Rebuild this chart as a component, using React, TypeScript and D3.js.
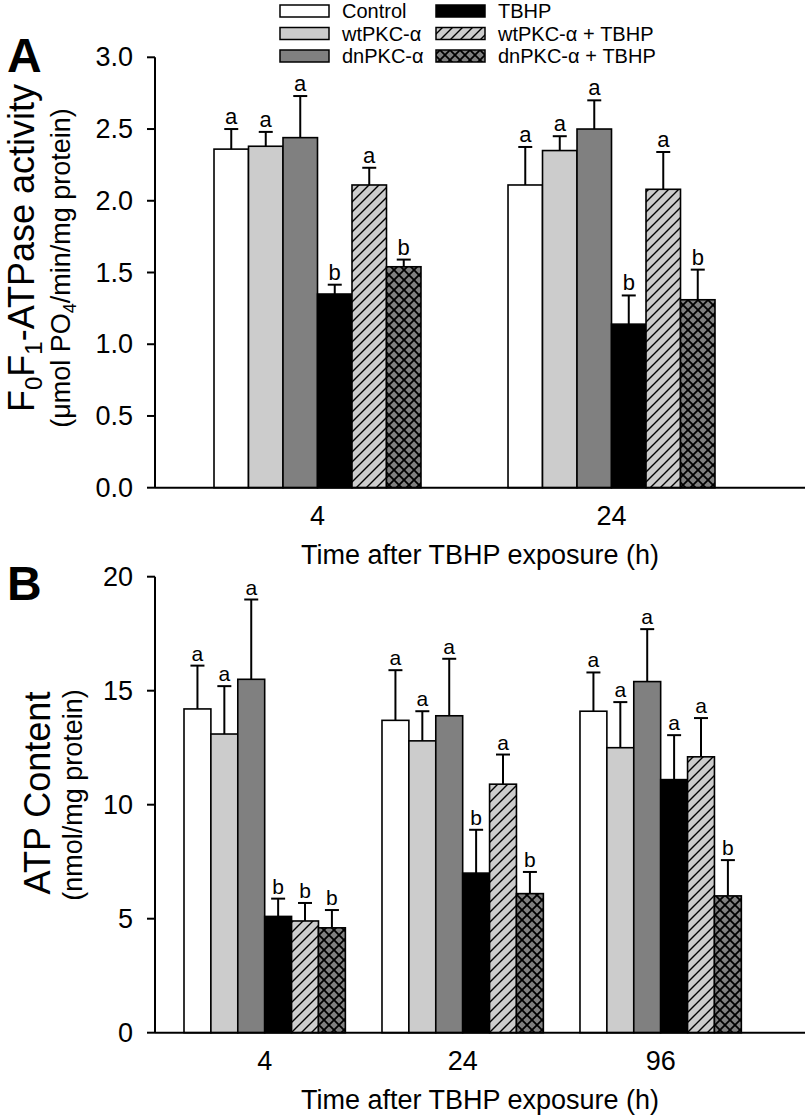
import * as d3 from "d3";

// six treatment series, same order in both panels
const seriesNames = ["Control", "wtPKC-α", "dnPKC-α", "TBHP", "wtPKC-α + TBHP", "dnPKC-α + TBHP"];

// panel A: F0F1-ATPase activity
const timesA = ["4", "24"];
const atpaseMean = [
  [2.36, 2.38, 2.44, 1.35, 2.11, 1.54],
  [2.11, 2.35, 2.5, 1.14, 2.08, 1.31],
];
const atpaseErr = [
  [0.14, 0.1, 0.29, 0.065, 0.12, 0.05],
  [0.265, 0.1, 0.2, 0.2, 0.26, 0.21],
];
const atpaseLetters = [
  ["a", "a", "a", "b", "a", "b"],
  ["a", "a", "a", "b", "a", "b"],
];
const atpaseTicks = [0, 0.5, 1, 1.5, 2, 2.5, 3];

// panel B: ATP content
const timesB = ["4", "24", "96"];
const atpMean = [
  [14.2, 13.1, 15.5, 5.1, 4.9, 4.6],
  [13.7, 12.8, 13.9, 7.0, 10.9, 6.1],
  [14.1, 12.5, 15.4, 11.1, 12.1, 6.0],
];
const atpErr = [
  [1.9, 2.1, 3.5, 0.78, 0.79, 0.78],
  [2.2, 1.3, 2.5, 1.9, 1.3, 0.95],
  [1.7, 2.0, 2.3, 1.95, 1.7, 1.57],
];
const atpLetters = [
  ["a", "a", "a", "b", "b", "b"],
  ["a", "a", "a", "b", "a", "b"],
  ["a", "a", "a", "a", "a", "b"],
];
const atpTicks = [0, 5, 10, 15, 20];

const FONT = "'Liberation Sans', Arial, Helvetica, sans-serif";
const AXIS_X = 155;
const AXIS_END = 805;

const fills = ["#ffffff", "#cccccc", "#808080", "#000000", "url(#hatch)", "url(#cross)"];

type PanelProps = {
  groups: string[];
  means: number[][];
  errs: number[][];
  letters: string[][];
  ticks: number[];
  fmt: (n: number) => string;
  yTop: number;
  yBottom: number;
  padInner: number;
  padOuter: number;
  align: number;
  letterSize: number;
};

function Panel({ groups, means, errs, letters, ticks, fmt, yTop, yBottom, padInner, padOuter, align, letterSize }: PanelProps) {
  const x0 = d3
    .scaleBand<string>()
    .domain(groups)
    .range([AXIS_X, AXIS_END])
    .paddingInner(padInner)
    .paddingOuter(padOuter)
    .align(align);
  const x1 = d3.scaleBand<string>().domain(seriesNames).range([0, x0.bandwidth()]);
  const y = d3
    .scaleLinear()
    .domain([0, ticks[ticks.length - 1]])
    .range([yBottom, yTop]);

  const capHalf = 7;

  return (
    <g>
      {groups.map((g, gi) => (
        <g key={g} transform={`translate(${x0(g)},0)`}>
          {seriesNames.map((s, si) => {
            const v = means[gi][si];
            const top = y(v + errs[gi][si]);
            const cx = x1(s)! + x1.bandwidth() / 2;
            return (
              <g key={s}>
                <rect
                  x={x1(s)}
                  y={y(v)}
                  width={x1.bandwidth()}
                  height={y(0) - y(v)}
                  fill={fills[si]}
                  stroke="#000"
                  strokeWidth={1.6}
                />
                <line x1={cx} x2={cx} y1={y(v)} y2={top} stroke="#000" strokeWidth={2} />
                <line x1={cx - capHalf} x2={cx + capHalf} y1={top} y2={top} stroke="#000" strokeWidth={2} />
                <text x={cx} y={top - 5} textAnchor="middle" fontSize={letterSize} fontFamily={FONT}>
                  {letters[gi][si]}
                </text>
              </g>
            );
          })}
          <text
            x={x0.bandwidth() / 2}
            y={yBottom + 37}
            textAnchor="middle"
            fontSize={27}
            fontFamily={FONT}
          >
            {g}
          </text>
        </g>
      ))}

      {/* axes */}
      <line x1={AXIS_X} x2={AXIS_X} y1={y(ticks[ticks.length - 1])} y2={yBottom} stroke="#000" strokeWidth={2} />
      <line x1={AXIS_X} x2={AXIS_END} y1={yBottom} y2={yBottom} stroke="#000" strokeWidth={2} />
      {ticks.map(t => (
        <g key={t}>
          <line x1={AXIS_X - 8} x2={AXIS_X} y1={y(t)} y2={y(t)} stroke="#000" strokeWidth={2} />
          <text
            x={133}
            y={y(t)}
            textAnchor="end"
            dominantBaseline="central"
            fontSize={27}
            fontFamily={FONT}
          >
            {fmt(t)}
          </text>
        </g>
      ))}
      <text x={480} y={yBottom + 76} textAnchor="middle" fontSize={27} fontFamily={FONT}>
        Time after TBHP exposure (h)
      </text>
    </g>
  );
}

function Legend() {
  const cols = [280, 436];
  const rows = [11, 33.5, 56];
  return (
    <g fontFamily={FONT} fontSize={20}>
      {seriesNames.map((s, i) => {
        const cx = cols[Math.floor(i / 3)];
        const cy = rows[i % 3];
        return (
          <g key={s}>
            <rect x={cx} y={cy - 6} width={49} height={12} fill={fills[i]} stroke="#000" strokeWidth={1.5} />
            <text x={cx + 62} y={cy + 7}>
              {s}
            </text>
          </g>
        );
      })}
    </g>
  );
}

export default function App() {
  const W = 812;
  const H = 1120;
  return (
    <svg
      width={W}
      height={H}
      viewBox={`0 0 ${W} ${H}`}
      style={{ position: "absolute", left: 0, top: 0, background: "#fff" }}
    >
      <defs>
        <pattern id="hatch" patternUnits="userSpaceOnUse" width={10} height={10}>
          <rect width={10} height={10} fill="#cccccc" />
          <path d="M-2,2 L2,-2 M0,10 L10,0 M8,12 L12,8" stroke="#000" strokeWidth={1.4} />
        </pattern>
        <pattern id="cross" patternUnits="userSpaceOnUse" width={10} height={10}>
          <rect width={10} height={10} fill="#808080" />
          <path d="M-1,-1 L11,11 M11,-1 L-1,11" stroke="#000" strokeWidth={1.8} />
        </pattern>
      </defs>
      <rect width={W} height={H} fill="#fff" />

      <Legend />

      <Panel
        groups={timesA}
        means={atpaseMean}
        errs={atpaseErr}
        letters={atpaseLetters}
        ticks={atpaseTicks}
        fmt={d3.format(".1f")}
        yTop={57.3}
        yBottom={487.7}
        padInner={0.296}
        padOuter={0.2534}
        align={0.396}
        letterSize={22}
      />
      <Panel
        groups={timesB}
        means={atpMean}
        errs={atpErr}
        letters={atpLetters}
        ticks={atpTicks}
        fmt={d3.format("d")}
        yTop={576.7}
        yBottom={1032.7}
        padInner={0.185}
        padOuter={0.234}
        align={0.313}
        letterSize={21}
      />

      {/* panel letters */}
      <text x={7} y={72} fontSize={48} fontWeight="bold" fontFamily={FONT}>A</text>
      <text x={7} y={600} fontSize={48} fontWeight="bold" fontFamily={FONT}>B</text>

      {/* y axis titles */}
      <text transform="translate(34,248) rotate(-90)" textAnchor="middle" fontSize={36} fontFamily={FONT}>
        F<tspan fontSize={24} dy={8}>0</tspan>
        <tspan dy={-8}>F</tspan>
        <tspan fontSize={24} dy={8}>1</tspan>
        <tspan dy={-8}>-ATPase activity</tspan>
      </text>
      <text transform="translate(70,268) rotate(-90)" textAnchor="middle" fontSize={27} fontFamily={FONT}>
        (μmol PO<tspan fontSize={18} dy={6}>4</tspan>
        <tspan dy={-6}>/min/mg protein)</tspan>
      </text>
      <text transform="translate(50,793) rotate(-90)" textAnchor="middle" fontSize={36} fontFamily={FONT}>
        ATP Content
      </text>
      <text transform="translate(82,795) rotate(-90)" textAnchor="middle" fontSize={27} fontFamily={FONT}>
        (nmol/mg protein)
      </text>
    </svg>
  );
}
